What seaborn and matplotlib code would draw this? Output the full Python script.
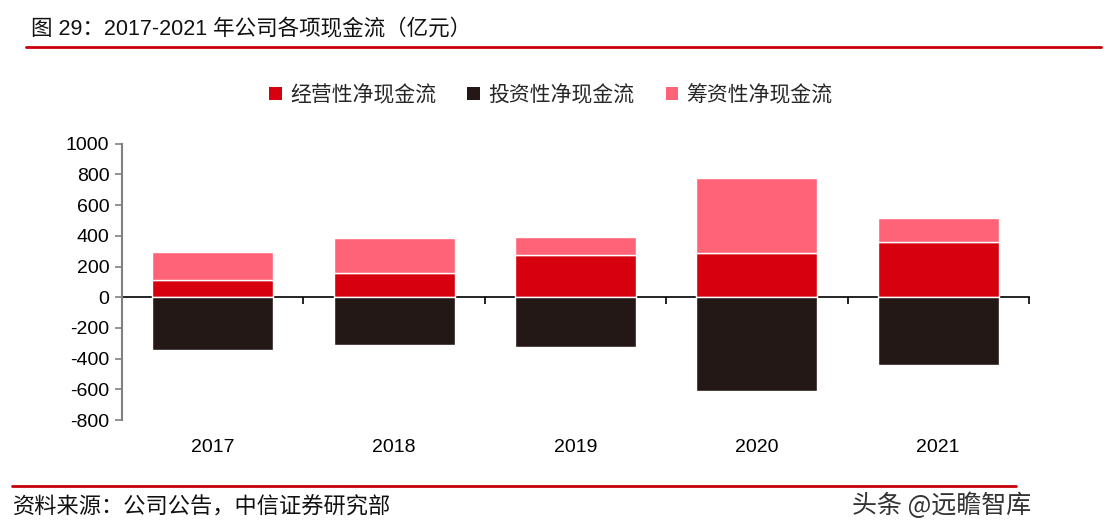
import matplotlib
matplotlib.use("Agg")
import matplotlib.pyplot as plt
import pandas as pd
import seaborn as sns
from matplotlib.patches import Patch

years = ["2017", "2018", "2019", "2020", "2021"]
operating = [109, 159, 276, 287, 357]
investing = [-341, -313, -324, -613, -442]
financing = [183, 226, 113, 491, 156]
series_names = ["经营性净现金流", "投资性净现金流", "筹资性净现金流"]
colors = ["#d7000f", "#231815", "#ff6378"]

title = "图 29：2017-2021 年公司各项现金流（亿元）"
source = "资料来源：公司公告，中信证券研究部"
watermark = "头条 @远瞻智库"
y_ticks = [-800, -600, -400, -200, 0, 200, 400, 600, 800, 1000]

sns.set_theme(style="white")
plt.rcParams["font.family"] = ["Liberation Sans", "Noto Sans CJK SC", "DejaVu Sans"]
plt.rcParams["axes.unicode_minus"] = False

df = pd.DataFrame({"year": years, "op": operating, "inv": investing, "fin": financing})

fig = plt.figure(figsize=(11.04, 5.32), dpi=100)
ax = fig.add_axes([0.1105, 0.2105, 0.8215, 0.5194])

w = 0.667
sns.barplot(data=df, x="year", y="op", color=colors[0], width=w, saturation=1, ax=ax)
sns.barplot(data=df, x="year", y="inv", color=colors[1], width=w, saturation=1, ax=ax)
sns.barplot(data=df, x="year", y="fin", bottom=df["op"], color=colors[2], width=w,
            saturation=1, ax=ax)

ax.set_xlim(-0.5, len(years) - 0.5)
ax.set_ylim(y_ticks[0], y_ticks[-1])
ax.set_yticks(y_ticks)
ax.set_yticklabels([str(t) for t in y_ticks], fontsize=14, color="black")
ax.set_xlabel("")
ax.set_ylabel("")
ax.tick_params(axis="x", length=0, labelsize=14, pad=14, labelcolor="black")
ax.tick_params(axis="y", left=True, length=5, width=1.2, color="#808080", pad=4)

for s in ["top", "right", "bottom"]:
    ax.spines[s].set_visible(False)
ax.spines["left"].set_color("#808080")
ax.spines["left"].set_linewidth(1.5)

# zero line with category boundary ticks
zero_loc = (0 - y_ticks[0]) / (y_ticks[-1] - y_ticks[0])
sec = ax.secondary_xaxis(zero_loc)
sec.set_xticks([i - 0.5 for i in range(len(years) + 1)])
sec.set_xticklabels([])
sec.tick_params(axis="x", direction="out", length=5, width=1.2, color="black")
sec.spines["bottom"].set_color("black")
sec.spines["bottom"].set_linewidth(1.2)
sec.spines["bottom"].set_zorder(5)

handles = [Patch(facecolor=c, edgecolor="none") for c in colors]
fig.legend(handles, series_names, loc="center", bbox_to_anchor=(0.499, 0.822), ncol=3,
           frameon=False, fontsize=15, handlelength=0.6, handleheight=0.6,
           handletextpad=0.4, columnspacing=1.5)

fig.text(0.028, 0.943, title, fontsize=15.5, va="center", ha="left", color="#111111")
fig.add_artist(plt.Line2D([0.024, 0.997], [0.911, 0.911], color="#c8000a", lw=2))
fig.add_artist(plt.Line2D([0.011, 0.92], [0.087, 0.087], color="#c8000a", lw=2))
fig.text(0.012, 0.045, source, fontsize=16, va="center", ha="left", color="#111111")
fig.text(0.934, 0.05, watermark, fontsize=18, va="center", ha="right", color="#333333",
         family=["Noto Sans CJK SC", "DejaVu Sans"])

fig.savefig("out.png", dpi=100)
